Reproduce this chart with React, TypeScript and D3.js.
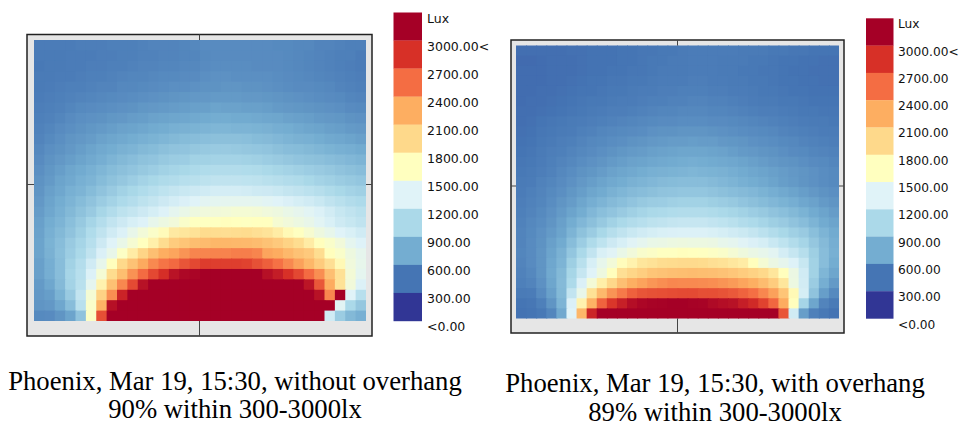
import { useEffect, useRef } from "react";
import * as d3 from "d3";

// illuminance per sensor cell, lux (27 rows x 32 columns, top row first)
const withoutOverhang: number[][] = [
  [490,490,490,490,500,500,500,510,510,510,520,530,530,530,540,550,570,570,570,570,570,570,570,560,560,550,550,530,530,520,510,510],
  [480,480,480,490,490,490,500,500,510,510,520,520,530,530,540,540,560,570,570,570,570,570,570,570,560,550,540,530,520,510,510,490],
  [470,480,480,490,490,500,500,510,510,520,530,530,540,540,550,550,570,580,580,580,580,570,570,570,560,550,540,530,520,510,500,490],
  [480,480,490,490,500,510,510,520,530,540,540,550,560,560,570,570,590,600,600,590,590,590,590,580,570,560,550,540,530,520,510,500],
  [480,490,500,510,510,520,530,530,550,550,560,570,580,590,590,600,610,610,620,620,610,610,600,590,580,570,570,560,550,530,520,510],
  [490,500,510,520,530,540,550,560,570,580,590,600,610,620,630,640,640,650,650,650,640,640,630,620,610,600,590,580,570,560,540,530],
  [500,510,520,540,560,570,580,590,600,610,630,640,650,660,670,680,680,700,690,690,680,680,670,650,640,630,620,610,600,590,570,560],
  [510,520,540,570,590,600,610,630,640,660,670,690,700,710,720,730,740,750,750,740,740,730,720,710,690,680,670,650,640,630,610,600],
  [520,540,570,590,610,630,650,670,690,700,720,740,750,770,780,790,800,810,810,800,800,790,780,760,750,730,710,700,680,670,650,640],
  [530,560,590,620,640,660,690,710,730,750,770,790,810,830,850,860,870,880,880,880,870,850,840,820,800,780,770,750,730,720,700,680],
  [550,590,610,640,670,700,730,750,780,800,830,850,880,900,910,930,940,950,950,940,930,920,910,880,860,850,830,810,790,770,760,740],
  [570,610,640,670,700,730,760,800,830,860,890,910,940,960,970,1000,1000,1010,1010,1010,1000,990,970,950,930,910,890,880,860,840,820,800],
  [590,630,670,710,740,770,810,850,880,910,940,970,1000,1020,1040,1060,1080,1090,1090,1090,1080,1070,1050,1030,1010,990,970,950,930,900,880,860],
  [610,650,700,730,770,800,850,890,930,970,1010,1040,1070,1090,1120,1130,1150,1170,1170,1170,1160,1150,1130,1110,1090,1070,1040,1010,990,960,940,920],
  [620,680,720,770,800,850,900,950,1000,1040,1080,1120,1160,1190,1220,1240,1260,1280,1280,1280,1270,1250,1240,1220,1190,1170,1140,1110,1070,1040,1010,990],
  [640,700,750,800,850,900,960,1010,1060,1100,1150,1190,1240,1280,1320,1350,1380,1390,1400,1400,1400,1390,1370,1350,1320,1290,1260,1220,1170,1130,1090,1060],
  [660,720,770,830,890,950,1030,1090,1150,1190,1240,1290,1340,1400,1440,1480,1500,1510,1520,1540,1540,1530,1500,1480,1440,1410,1370,1330,1270,1210,1170,1130],
  [680,750,800,870,940,1020,1100,1180,1240,1300,1340,1420,1470,1510,1590,1640,1640,1640,1660,1650,1640,1650,1650,1550,1510,1470,1430,1370,1310,1250,1210,1170],
  [690,770,830,900,980,1080,1170,1260,1330,1430,1520,1600,1680,1820,1850,1880,1930,1920,1910,1920,1930,1900,1870,1800,1700,1640,1560,1480,1420,1350,1310,1260],
  [700,790,860,950,1020,1120,1240,1350,1440,1550,1650,1770,1920,2040,2090,2140,2160,2190,2190,2180,2170,2150,2110,2060,1990,1920,1800,1660,1590,1510,1400,1340],
  [700,780,870,970,1050,1170,1320,1430,1620,1800,1980,2130,2250,2290,2370,2440,2440,2450,2450,2470,2470,2440,2290,2260,2180,2110,2060,1920,1660,1590,1480,1410],
  [680,760,860,1000,1100,1260,1420,1660,1950,2110,2270,2420,2520,2570,2670,2730,2790,2780,2780,2780,2760,2690,2620,2530,2420,2310,2190,2050,1900,1700,1500,1420],
  [680,760,860,1020,1120,1330,1540,1930,2140,2380,2560,2730,2860,3030,3100,3120,3200,3200,3200,3200,3200,3200,3050,2970,2850,2730,2560,2400,2130,1890,1530,1400],
  [650,720,840,1010,1130,1400,1750,2120,2430,2720,3040,3200,3200,3200,3200,3200,3200,3200,3200,3200,3200,3200,3200,3200,3200,3200,3020,2660,2260,1880,1510,1330],
  [640,670,790,950,1180,1540,2000,2400,2930,3200,3200,3200,3200,3200,3200,3200,3200,3200,3200,3200,3200,3200,3200,3200,3200,3200,3200,3040,2430,3200,1350,1120],
  [620,640,720,860,1130,1600,2220,3050,3200,3200,3200,3200,3200,3200,3200,3200,3200,3200,3200,3200,3200,3200,3200,3200,3200,3200,3200,3200,3200,1370,1050,930],
  [560,570,620,700,900,1620,2700,3200,3200,3200,3200,3200,3200,3200,3200,3200,3200,3200,3200,3200,3200,3200,3200,3200,3200,3200,3200,3200,1260,960,830,770],
];

const withOverhang: number[][] = [
  [420,420,420,420,420,430,430,440,440,440,450,450,460,460,470,470,480,490,490,490,490,490,480,480,480,470,470,460,460,450,450,450],
  [400,400,410,420,420,420,430,440,440,440,450,450,460,470,470,480,480,490,490,490,480,480,480,470,470,460,450,450,440,440,430,430],
  [410,410,410,420,420,420,430,440,440,450,450,460,460,470,480,480,480,490,490,490,480,480,470,470,460,460,450,440,440,430,430,430],
  [410,410,410,420,420,430,440,450,450,460,460,470,470,480,490,490,490,500,500,490,490,480,480,470,470,460,450,450,440,440,430,430],
  [410,410,420,420,430,440,450,450,460,470,470,480,490,490,500,500,510,510,510,500,500,490,490,480,470,470,460,450,450,440,440,440],
  [410,420,420,430,440,450,460,470,470,480,490,490,500,510,510,520,520,530,530,520,520,510,500,490,480,480,470,470,460,450,450,450],
  [420,420,430,440,450,460,470,480,490,500,500,510,520,530,540,540,550,550,550,540,540,530,520,510,500,500,490,480,470,470,460,460],
  [420,430,450,460,470,480,490,500,510,520,530,540,550,560,570,570,580,580,580,570,570,560,550,540,530,520,510,500,490,480,480,470],
  [430,440,460,470,480,490,510,520,540,550,560,570,580,600,610,610,620,620,620,610,600,590,580,570,560,550,530,520,510,500,490,490],
  [440,450,470,480,500,510,530,550,560,580,590,610,620,640,650,660,660,670,660,660,640,630,620,600,590,580,560,550,530,520,510,500],
  [450,460,480,500,510,530,550,570,590,610,630,650,660,680,690,700,710,710,710,700,690,670,650,640,620,610,590,570,560,540,530,520],
  [460,470,490,510,530,550,580,600,620,650,670,690,700,720,730,740,750,760,750,740,730,720,700,680,660,640,620,610,590,570,560,540],
  [470,480,500,520,550,580,610,630,660,690,710,730,750,770,780,790,800,810,800,790,780,760,740,720,700,680,660,640,620,600,580,560],
  [480,490,520,540,570,600,640,670,700,730,750,780,800,820,840,850,860,860,860,840,820,800,770,750,730,700,670,650,620,600,580,560],
  [490,510,530,560,590,630,670,710,740,780,810,840,860,880,900,910,920,920,920,900,880,860,840,820,790,760,730,700,670,640,610,590],
  [500,520,540,580,620,660,710,760,800,840,870,910,940,960,970,990,1000,1000,1000,980,960,940,910,880,850,820,790,760,720,690,650,620],
  [510,530,560,600,650,700,750,820,870,910,950,990,1020,1050,1060,1080,1090,1090,1090,1070,1050,1030,1000,970,940,900,870,830,790,740,700,660],
  [520,550,580,620,680,750,820,880,940,1000,1050,1090,1120,1150,1170,1190,1200,1200,1200,1180,1160,1130,1090,1060,1020,980,950,900,860,800,740,700],
  [530,560,600,650,700,800,890,960,1040,1110,1170,1220,1260,1290,1310,1320,1330,1330,1330,1310,1290,1260,1230,1190,1140,1090,1040,990,950,870,800,740],
  [530,570,610,680,740,860,970,1070,1160,1240,1300,1360,1400,1440,1450,1470,1480,1470,1470,1460,1420,1400,1360,1320,1290,1220,1160,1090,1020,930,840,760],
  [540,570,620,700,780,920,1050,1180,1310,1360,1440,1510,1580,1610,1640,1640,1660,1650,1640,1620,1590,1540,1490,1450,1420,1380,1280,1200,1110,980,860,770],
  [530,570,620,720,800,980,1130,1300,1420,1520,1670,1750,1850,1880,1920,1930,1940,1940,1930,1900,1880,1840,1800,1660,1540,1460,1410,1340,1210,1000,860,750],
  [520,550,620,730,830,1030,1200,1350,1480,1660,1900,1970,2030,2090,2110,2130,2140,2150,2140,2130,2110,2080,2040,2000,1950,1850,1660,1460,1260,1000,810,710],
  [510,530,600,710,840,1060,1320,1530,1780,1960,2130,2240,2300,2360,2400,2430,2420,2420,2410,2400,2370,2340,2290,2240,2150,2040,1850,1470,1270,960,760,650],
  [480,490,570,680,830,1180,1430,1890,2170,2370,2490,2610,2670,2690,2700,2710,2720,2720,2700,2700,2680,2650,2600,2540,2430,2310,2090,1700,1290,900,670,560],
  [450,460,510,620,800,1320,1750,2220,2600,2820,2950,3060,3110,3130,3140,3150,3150,3140,3130,3090,3060,3040,2960,2890,2760,2580,2260,1660,1020,710,530,480],
  [440,450,470,540,730,1350,2190,2920,3200,3200,3200,3200,3200,3200,3200,3200,3200,3200,3200,3200,3200,3200,3200,3200,3200,3200,2670,1260,670,510,470,440],
];

const legendLabels = ["Lux", "3000.00<", "2700.00", "2400.00", "2100.00", "1800.00", "1500.00", "1200.00", "900.00", "600.00", "300.00", "<0.00"];
const legendColors = ["#a50026", "#d73027", "#f46d43", "#fdae61", "#fed98b", "#ffffbf", "#e0f3f8", "#abd9e9", "#74add1", "#4575b4", "#313695"];
const legendMids = [3150, 2850, 2550, 2250, 1950, 1650, 1350, 1050, 750, 450, 150];

const captions = [
  ["Phoenix, Mar 19, 15:30, without overhang", "90% within 300-3000lx"],
  ["Phoenix, Mar 19, 15:30, with overhang", "89% within 300-3000lx"],
];

const panels = [
  {
    grid: withoutOverhang, caption: captions[0],
    frame: { x0: 27, x1: 372, y0: 34.5, y1: 336 },
    plot: { x0: 34, x1: 366, y0: 40, y1: 321 },
    legend: { x0: 393.5, x1: 422, y0: 12.5, y1: 321, textX: 427 },
    capX: 235, capY: [390, 418], labelSize: 12.5,
  },
  {
    grid: withOverhang, caption: captions[1],
    frame: { x0: 511, x1: 844, y0: 40, y1: 333 },
    plot: { x0: 516, x1: 839, y0: 45.5, y1: 318.5 },
    legend: { x0: 866, x1: 893.5, y0: 18.3, y1: 318.5, textX: 898 },
    capX: 715, capY: [392, 421], labelSize: 12.2,
  },
];

const color = d3
  .scaleLinear<string>()
  .domain([...legendMids].reverse())
  .range([...legendColors].reverse())
  .clamp(true);

export default function App() {
  const ref = useRef<SVGSVGElement>(null);

  useEffect(() => {
    const svg = d3.select(ref.current);
    svg.selectAll("*").remove();

    panels.forEach((p) => {
      const g = svg.append("g");

      g.append("rect")
        .attr("x", p.frame.x0)
        .attr("y", p.frame.y0)
        .attr("width", p.frame.x1 - p.frame.x0)
        .attr("height", p.frame.y1 - p.frame.y0)
        .attr("fill", "#e6e6e6")
        .attr("stroke", "#222")
        .attr("stroke-width", 1.5);

      const rows = d3.range(p.grid.length);
      const cols = d3.range(p.grid[0].length);
      const x = d3.scaleBand<number>().domain(cols).range([p.plot.x0, p.plot.x1]);
      const y = d3.scaleBand<number>().domain(rows).range([p.plot.y0, p.plot.y1]);

      // heatmap cells, oversized by a pixel except at the far edges so no seams show
      const lastCol = cols.length - 1;
      const lastRow = rows.length - 1;
      g.selectAll("rect.cell")
        .data(p.grid.flatMap((row, r) => row.map((v, c) => ({ r, c, v }))))
        .enter()
        .append("rect")
        .attr("class", "cell")
        .attr("x", (d) => x(d.c)!)
        .attr("y", (d) => y(d.r)!)
        .attr("width", (d) => x.bandwidth() + (d.c < lastCol ? 1 : 0))
        .attr("height", (d) => y.bandwidth() + (d.r < lastRow ? 1 : 0))
        .attr("fill", (d) => color(d.v));

      // the single tick at the middle of each frame side
      const midX = (p.frame.x0 + p.frame.x1) / 2;
      const midY = (p.plot.y0 + p.plot.y1) / 2 + 4;
      const ticks = [
        [midX, p.frame.y0, midX, p.plot.y0],
        [midX, p.plot.y1, midX, p.frame.y1],
        [p.frame.x0, midY, p.plot.x0, midY],
        [p.plot.x1, midY, p.frame.x1, midY],
      ];
      g.selectAll("line.tick")
        .data(ticks)
        .enter()
        .append("line")
        .attr("class", "tick")
        .attr("x1", (d) => d[0])
        .attr("y1", (d) => d[1])
        .attr("x2", (d) => d[2])
        .attr("y2", (d) => d[3])
        .attr("stroke", "#444");

      // legend
      const ly = d3
        .scaleBand<number>()
        .domain(d3.range(legendColors.length))
        .range([p.legend.y0, p.legend.y1]);
      g.selectAll("rect.swatch")
        .data(legendColors)
        .enter()
        .append("rect")
        .attr("class", "swatch")
        .attr("x", p.legend.x0)
        .attr("y", (_, i) => ly(i)!)
        .attr("width", p.legend.x1 - p.legend.x0)
        .attr("height", ly.bandwidth() + 0.2)
        .attr("fill", (d) => d);
      g.selectAll("text.legend")
        .data(legendLabels)
        .enter()
        .append("text")
        .attr("class", "legend")
        .attr("x", p.legend.textX)
        .attr("y", (_, i) => p.legend.y0 + ly.bandwidth() * i + 10)
        .attr("font-family", "DejaVu Sans")
        .attr("font-size", p.labelSize)
        .attr("fill", "#111")
        .text((d) => d);

      // caption
      p.caption.forEach((line, i) => {
        g.append("text")
          .attr("x", p.capX)
          .attr("y", p.capY[i])
          .attr("text-anchor", "middle")
          .attr("font-family", "Liberation Serif")
          .attr("font-size", 26.7)
          .attr("fill", "#000")
          .text(line);
      });
    });
  }, []);

  return (
    <svg
      ref={ref}
      width={962}
      height={426}
      style={{ position: "absolute", left: 0, top: 0, background: "#fff" }}
    />
  );
}
